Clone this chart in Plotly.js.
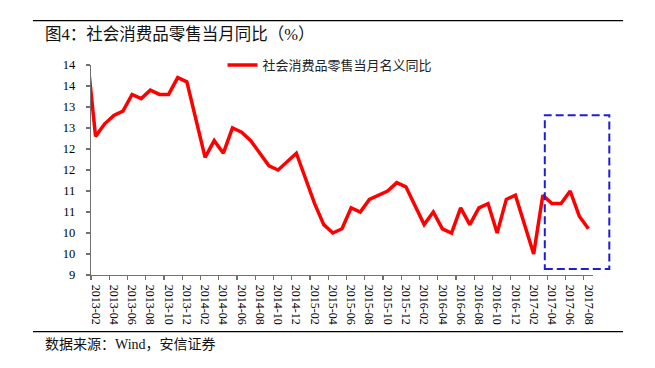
<!DOCTYPE html>
<html>
<head>
<meta charset="utf-8">
<script src="https://cdn.plot.ly/plotly-3.0.1.min.js"></script>
<style>html,body{margin:0;padding:0;background:#fff;}#chart{width:655px;height:368px;}</style>
</head>
<body>
<div id="chart"></div>
<script>
// Month categories (2013-01 is only the clipped lead-in before the axis start)
const months = [
  "2013-01","2013-02","2013-03","2013-04","2013-05","2013-06","2013-07","2013-08","2013-09","2013-10","2013-11","2013-12",
  "2014-01","2014-02","2014-03","2014-04","2014-05","2014-06","2014-07","2014-08","2014-09","2014-10","2014-11","2014-12",
  "2015-01","2015-02","2015-03","2015-04","2015-05","2015-06","2015-07","2015-08","2015-09","2015-10","2015-11","2015-12",
  "2016-01","2016-02","2016-03","2016-04","2016-05","2016-06","2016-07","2016-08","2016-09","2016-10","2016-11","2016-12",
  "2017-01","2017-02","2017-03","2017-04","2017-05","2017-06","2017-07","2017-08"
];
// 社会消费品零售当月名义同比 (%)
const retailYoY = [
  14.4, 12.3, 12.6, 12.8, 12.9, 13.3, 13.2, 13.4, 13.3, 13.3, 13.7, 13.6,
  null, 11.8, 12.2, 11.9, 12.5, 12.4, 12.2, 11.9, 11.6, 11.5, 11.7, 11.9,
  null, 10.7, 10.2, 10.0, 10.1, 10.6, 10.5, 10.8, 10.9, 11.0, 11.2, 11.1,
  null, 10.2, 10.5, 10.1, 10.0, 10.6, 10.2, 10.6, 10.7, 10.0, 10.8, 10.9,
  null, 9.5, 10.9, 10.7, 10.7, 11.0, 10.4, 10.1
];
const xTickLabels = [
  "2013-02","2013-04","2013-06","2013-08","2013-10","2013-12",
  "2014-02","2014-04","2014-06","2014-08","2014-10","2014-12",
  "2015-02","2015-04","2015-06","2015-08","2015-10","2015-12",
  "2016-02","2016-04","2016-06","2016-08","2016-10","2016-12",
  "2017-02","2017-04","2017-06","2017-08"
];
const yTickVals = [9, 9.5, 10, 10.5, 11, 11.5, 12, 12.5, 13, 13.5, 14];
const yTickText = ["9", "10", "10", "11", "11", "12", "12", "13", "13", "14", "14"];

const seriesName = "社会消费品零售当月名义同比";
const titleText = "图4：社会消费品零售当月同比（%）";
const sourceText = "数据来源：Wind，安信证券";

const FONT = "Liberation Serif, Noto Sans CJK SC, serif";
const CJK = "Liberation Serif, Noto Sans CJK SC, sans-serif";
const axisGray = "#707070";

// tick marks at the left boundary of each labelled category
const boundaryTicks = xTickLabels.map(m => months.indexOf(m) - 0.5);
const xRange = [0.5, months.length - 0.5];

const traces = [
  {
    type: "scatter", mode: "lines", name: seriesName,
    x: months, y: retailYoY, connectgaps: true,
    line: {color: "#ff0000", width: 3.5},
    hoverinfo: "x+y"
  },
  {
    type: "scatter", mode: "lines", x: [], y: [], xaxis: "x2", yaxis: "y",
    showlegend: false, hoverinfo: "skip"
  }
];

const layout = {
  width: 655, height: 368,
  margin: {l: 91, r: 62, t: 65, b: 93, pad: 0},
  paper_bgcolor: "#ffffff", plot_bgcolor: "#ffffff",
  title: {
    text: titleText, xref: "container", yref: "container",
    x: 45 / 655, xanchor: "left", y: 1 - 34 / 368, yanchor: "middle",
    font: {family: CJK, size: 16.5, color: "#111111"}
  },
  showlegend: true,
  legend: {
    orientation: "h", x: 0.262, xanchor: "left", y: 1.0, yanchor: "middle",
    bgcolor: "rgba(0,0,0,0)", font: {family: CJK, size: 13, color: "#222222"}
  },
  xaxis: {
    type: "category", categoryorder: "array", categoryarray: months,
    range: xRange, tickvals: xTickLabels, ticktext: xTickLabels,
    tickangle: 90, ticks: "", showline: true, linecolor: axisGray, linewidth: 1.3,
    showgrid: false, zeroline: false, ticklabelstandoff: 6,
    tickfont: {family: FONT, size: 12, color: "#000000"}
  },
  xaxis2: {
    type: "linear", overlaying: "x", anchor: "y", side: "bottom",
    range: xRange, tickvals: boundaryTicks, ticks: "outside", ticklen: 4,
    tickwidth: 1.2, tickcolor: axisGray, showticklabels: false,
    showline: false, showgrid: false, zeroline: false
  },
  yaxis: {
    range: [9, 14], tickvals: yTickVals, ticktext: yTickText,
    ticks: "outside", ticklen: 4, tickwidth: 1.2, tickcolor: axisGray,
    showline: true, linecolor: axisGray, linewidth: 1.3,
    showgrid: false, zeroline: false, ticklabelstandoff: 8,
    tickfont: {family: FONT, size: 12.5, color: "#000000"}
  },
  shapes: [
    {type: "line", xref: "paper", yref: "paper", x0: -0.1155, x1: 1.0598, y0: 1.2111, y1: 1.2111,
     line: {color: "#000000", width: 1.3}},
    {type: "line", xref: "paper", yref: "paper", x0: -0.1155, x1: 1.0598, y0: -0.2696, y1: -0.2696,
     line: {color: "#000000", width: 1.3}},
    {type: "rect", xref: "paper", yref: "paper", x0: 0.904, x1: 1.0325, y0: 0.0285, y1: 0.761,
     line: {color: "#1e1ed2", width: 2, dash: "8px,4px"}, fillcolor: "rgba(0,0,0,0)"}
  ],
  annotations: [
    {text: sourceText, xref: "paper", yref: "paper", x: -0.0956, y: -0.333,
     xanchor: "left", yanchor: "middle", showarrow: false,
     font: {family: CJK, size: 14, color: "#111111"}}
  ]
};

Plotly.newPlot("chart", traces, layout, {staticPlot: true, displayModeBar: false});
</script>
</body>
</html>
